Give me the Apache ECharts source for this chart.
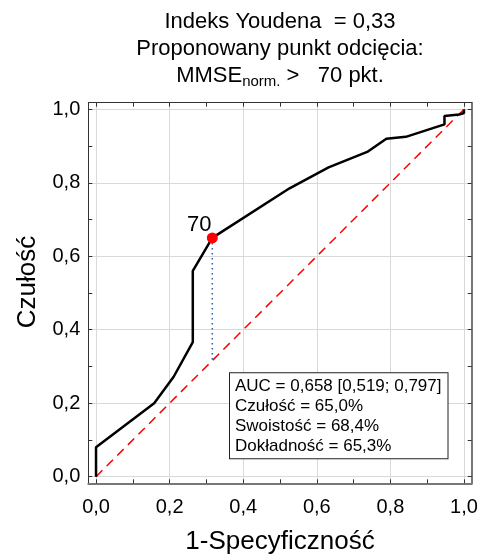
<!DOCTYPE html>
<html>
<head>
<meta charset="utf-8">
<script src="https://cdn.jsdelivr.net/npm/echarts@6/dist/echarts.min.js"></script>
<style>
  html, body { margin: 0; padding: 0; background: #fff; }
  #chart { width: 483px; height: 555px; }
</style>
</head>
<body>
<div id="chart"></div>
<script>
// ROC curve: 1-specificity (x) vs sensitivity (y)
const rocFpr = [0, 0, 0.158, 0.211, 0.263, 0.263, 0.316, 0.526, 0.632, 0.737, 0.789, 0.842, 0.947, 0.947, 0.987, 1, 1];
const rocTpr = [0, 0.08, 0.2, 0.272, 0.366, 0.56, 0.65, 0.785, 0.842, 0.884, 0.92, 0.925, 0.959, 0.982, 0.986, 0.99, 1];

// Reference diagonal (random classifier)
const diagX = [0, 1];
const diagY = [0, 1];

// Proposed cut-off point
const cutLabel = '70';
const cutSensitivity = 0.65;   // Czułość = 65,0%
const cutSpecificity = 0.684;  // Swoistość = 68,4%
const cutAccuracy = 0.653;     // Dokładność = 65,3%
const youdenIndex = 0.33;

// AUC with confidence interval
const aucStats = [0.658, 0.519, 0.797];

// Axis ticks and labels
const tickValues = [0, 0.1, 0.2, 0.3, 0.4, 0.5, 0.6, 0.7, 0.8, 0.9, 1.0];
const labelValues = [0, 0.2, 0.4, 0.6, 0.8, 1.0];

const FONT = '"Liberation Sans", Arial, sans-serif';
const fmtComma = (v, d) => v.toFixed(d).replace('.', ',');
const pct = v => fmtComma(v * 100, 1) + '%';

const cutX = +(1 - cutSpecificity).toFixed(3);
const cutY = cutSensitivity;

const chart = echarts.init(document.getElementById('chart'), null, { renderer: 'canvas' });

function axisCommon(lineColor, lineWidth) {
  return {
    type: 'value',
    min: -0.021,
    max: 1.021,
    axisLine: { show: true, onZero: false, lineStyle: { color: lineColor, width: lineWidth } },
    axisTick: { show: true, inside: true, length: 4, customValues: tickValues, lineStyle: { color: '#333', width: 1 } },
    axisLabel: { show: false },
    splitLine: { show: false }
  };
}

const labelStyle = {
  show: true,
  customValues: labelValues,
  formatter: v => fmtComma(v, 1),
  fontSize: 20,
  color: '#000',
  fontFamily: FONT
};

const option = {
  animation: false,
  backgroundColor: '#fff',
  grid: {
    left: 88.3, right: 11.3, top: 102.7, bottom: 71.7,
    containLabel: false,
    outerBoundsMode: 'none'
  },
  xAxis: [
    Object.assign(axisCommon('#777', 2), {
      position: 'bottom',
      axisLabel: Object.assign({}, labelStyle, { margin: 14 }),
      splitLine: { show: true, lineStyle: { color: ['#d9d9d9', 'rgba(0,0,0,0)'], width: 1 } },
      name: '1-Specyficzność',
      nameLocation: 'middle',
      nameGap: 46,
      nameTextStyle: { fontSize: 26, color: '#000', fontFamily: FONT }
    }),
    Object.assign(axisCommon('#333', 1), { position: 'top' })
  ],
  yAxis: [
    Object.assign(axisCommon('#333', 1), {
      position: 'left',
      min: -0.018,
      max: 1.018,
      axisLabel: Object.assign({}, labelStyle, { margin: 8 }),
      splitLine: { show: true, lineStyle: { color: ['#d9d9d9', 'rgba(0,0,0,0)'], width: 1 } },
      name: 'Czułość',
      nameLocation: 'middle',
      nameGap: 47,
      nameTextStyle: { fontSize: 26, color: '#000', fontFamily: FONT, padding: [0, 0, 0, 22] }
    }),
    Object.assign(axisCommon('#777', 2), { position: 'right', min: -0.018, max: 1.018 })
  ],
  graphic: [
    {
      type: 'text',
      x: 280,
      y: 9,
      style: {
        text: '{a|Indeks Youdena  = ' + fmtComma(youdenIndex, 2) + '}\n' +
              '{a|Proponowany punkt odcięcia:}\n' +
              '{a|MMSE}{s|norm.}{a| >   ' + cutLabel + ' pkt.}',
        align: 'center',
        verticalAlign: 'top',
        fill: '#000',
        rich: {
          a: { fontSize: 22, lineHeight: 26.7, fontFamily: FONT, fill: '#000', color: '#000' },
          s: { fontSize: 15, lineHeight: 6, verticalAlign: 'bottom', fontFamily: FONT, fill: '#000', color: '#000' }
        }
      }
    },
    {
      type: 'text',
      x: 230,
      y: 373.3,
      z: 100,
      style: {
        text: 'AUC = ' + fmtComma(aucStats[0], 3) + ' [' + fmtComma(aucStats[1], 3) + '; ' + fmtComma(aucStats[2], 3) + ']\n' +
              'Czułość = ' + pct(cutSensitivity) + '\n' +
              'Swoistość = ' + pct(cutSpecificity) + '\n' +
              'Dokładność = ' + pct(cutAccuracy),
        font: '17px ' + FONT,
        lineHeight: 20,
        fill: '#000',
        backgroundColor: '#fff',
        borderColor: '#222',
        borderWidth: 1,
        padding: [3, 6, 2, 5]
      }
    }
  ],
  series: [
    {
      name: 'diagonal',
      type: 'line',
      data: diagX.map((x, i) => [x, diagY[i]]),
      showSymbol: false,
      symbol: 'none',
      lineStyle: { color: '#ff0000', width: 1.5, type: [9, 6] },
      z: 2
    },
    {
      name: 'ROC',
      type: 'line',
      data: rocFpr.map((x, i) => [x, rocTpr[i]]),
      showSymbol: false,
      symbol: 'none',
      lineStyle: { color: '#000', width: 2.5 },
      z: 3
    },
    {
      name: 'cut-off',
      type: 'line',
      data: [[cutX, cutY], [cutX, cutX]],
      showSymbol: false,
      symbol: 'none',
      lineStyle: { color: '#2b5fa8', width: 1.5, type: [1.5, 3.5] },
      z: 4
    },
    {
      name: 'point',
      type: 'scatter',
      data: [[cutX, cutY]],
      symbol: 'circle',
      symbolSize: 11,
      itemStyle: { color: '#ff0000', opacity: 1 },
      label: {
        show: true,
        position: 'top',
        distance: 0,
        offset: [-13, 4],
        formatter: cutLabel,
        fontSize: 22,
        color: '#000',
        opacity: 1,
        fontFamily: FONT
      },
      z: 5
    }
  ]
};

chart.setOption(option);
</script>
</body>
</html>
